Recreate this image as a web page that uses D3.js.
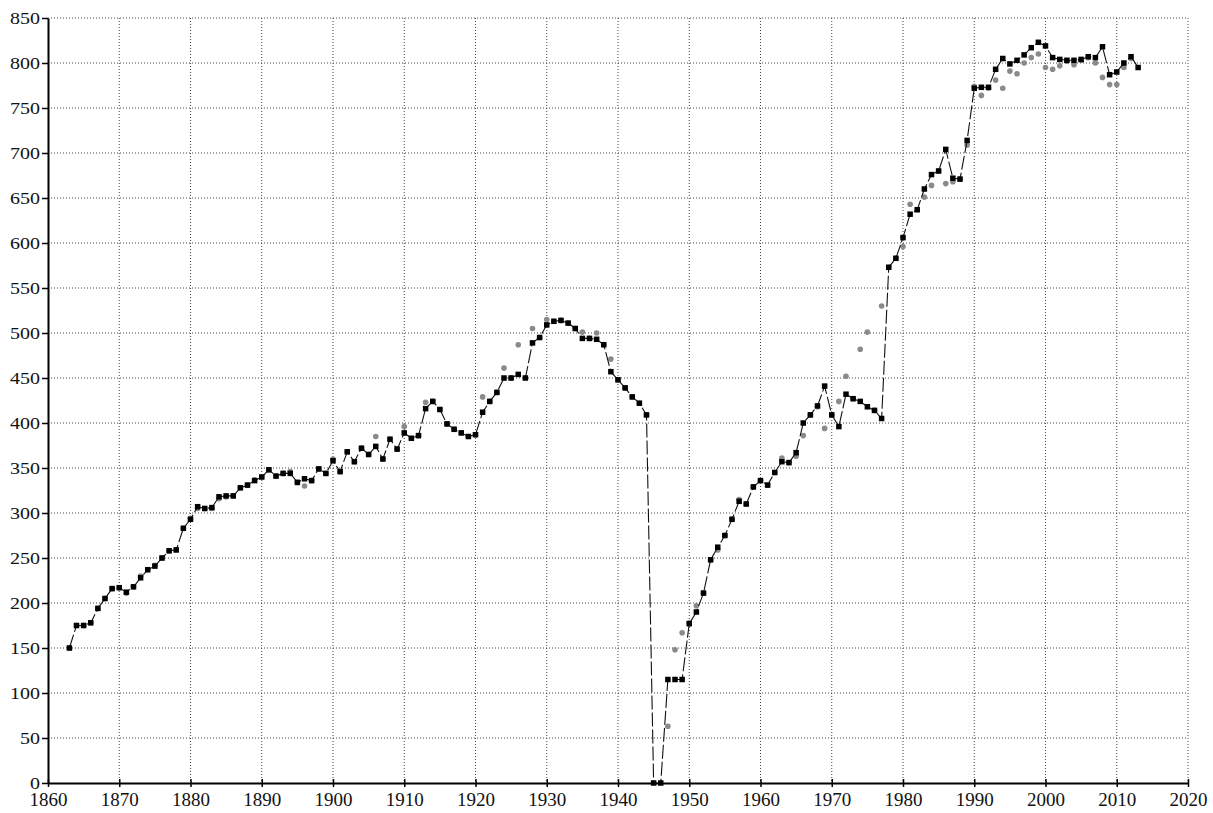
<!DOCTYPE html>
<html>
<head>
<meta charset="utf-8">
<script src="https://cdn.jsdelivr.net/npm/d3@7"></script>
<style>
  html, body { margin: 0; padding: 0; background: #fff; }
  svg { display: block; }
</style>
</head>
<body>
<div id="chart"></div>
<script>
// years 1863..2013, one value per year
const years = d3.range(1863, 2014);

const blackValues = [
  150, 175, 175, 178, 194, 205, 216, 217, 212, 218,   // 1863-1872
  228, 237, 241, 250, 258, 259, 283, 293, 307, 305,   // 1873-1882
  306, 318, 319, 319, 328, 331, 336, 340, 348, 341,   // 1883-1892
  344, 344, 334, 338, 336, 349, 344, 358, 346, 368,   // 1893-1902
  357, 372, 365, 374, 360, 382, 371, 389, 383, 386,   // 1903-1912
  416, 424, 415, 399, 393, 389, 385, 387, 412, 424,   // 1913-1922
  434, 450, 450, 454, 450, 489, 495, 509, 513, 514,   // 1923-1932
  511, 505, 494, 494, 493, 487, 457, 448, 439, 429,   // 1933-1942
  422, 409, 0, 0, 115, 115, 115, 177, 190, 211,       // 1943-1952
  248, 262, 275, 293, 313, 310, 329, 336, 331, 345,   // 1953-1962
  357, 356, 367, 400, 409, 419, 441, 409, 396, 432,   // 1963-1972
  427, 424, 418, 414, 405, 573, 583, 606, 632, 637,   // 1973-1982
  660, 676, 680, 704, 672, 671, 714, 772, 773, 773,   // 1983-1992
  793, 805, 799, 803, 809, 817, 823, 819, 806, 804,   // 1993-2002
  803, 803, 804, 807, 806, 818, 787, 790, 800, 807,   // 2003-2012
  795                                                 // 2013
];

const grayValues = [
  150, 175, 175, 178, 194, 205, 216, 217, 211, 218,   // 1863-1872
  230, 237, 242, 250, 258, 259, 283, 294, 305, 305,   // 1873-1882
  305, 316, 318, 319, 328, 331, 337, 340, 348, 341,   // 1883-1892
  344, 346, 334, 330, 336, 349, 344, 360, 346, 368,   // 1893-1902
  357, 372, 365, 385, 360, 382, 371, 396, 383, 386,   // 1903-1912
  423, 424, 415, 399, 393, 389, 385, 387, 429, 424,   // 1913-1922
  434, 461, 450, 487, 450, 505, 495, 515, 513, 514,   // 1923-1932
  511, 505, 501, 494, 500, 487, 471, 448, 439, 429,   // 1933-1942
  422, 409, null, null, 63, 148, 167, 178, 197, 211,  // 1943-1952
  248, 259, 275, 293, 315, 310, 329, 336, 331, 345,   // 1953-1962
  361, 356, 363, 386, 409, 418, 394, 409, 424, 452,   // 1963-1972
  427, 482, 501, 414, 530, 573, 583, 596, 643, 637,   // 1973-1982
  651, 664, 680, 666, 668, 671, 709, 774, 764, 772,   // 1983-1992
  781, 772, 791, 788, 800, 806, 810, 795, 793, 797,   // 1993-2002
  802, 798, 803, 806, 800, 784, 776, 776, 795, 805,   // 2003-2012
  null                                                // 2013
];

const xTicks = [1860, 1870, 1880, 1890, 1900, 1910, 1920, 1930, 1940, 1950, 1960, 1970, 1980, 1990, 2000, 2010, 2020];
const yTicks = [0, 50, 100, 150, 200, 250, 300, 350, 400, 450, 500, 550, 600, 650, 700, 750, 800, 850];

const W = 1213, H = 813;
const margin = { top: 18, right: 25, bottom: 30, left: 48 };
const width = W - margin.left - margin.right;
const height = H - margin.top - margin.bottom;
const serif = '"Liberation Serif", "DejaVu Serif", "Times New Roman", serif';

const svg = d3.select('#chart').append('svg')
    .attr('width', W)
    .attr('height', H);

const g = svg.append('g')
    .attr('transform', `translate(${margin.left},${margin.top})`);

const x = d3.scaleLinear().domain([1860, 2020]).range([0, width]);
const y = d3.scaleLinear().domain([0, 850]).range([height, 0]);

// dotted grid
g.append('g').selectAll('line')
    .data(xTicks.slice(1))
    .join('line')
    .attr('x1', d => x(d)).attr('x2', d => x(d))
    .attr('y1', 0).attr('y2', height)
    .attr('stroke', '#444')
    .attr('stroke-width', 1)
    .attr('stroke-dasharray', '1,2');

g.append('g').selectAll('line')
    .data(yTicks.slice(1))
    .join('line')
    .attr('x1', 0).attr('x2', width)
    .attr('y1', d => y(d)).attr('y2', d => y(d))
    .attr('stroke', '#444')
    .attr('stroke-width', 1)
    .attr('stroke-dasharray', '1,2');

// axes
const xAxis = g.append('g')
    .attr('transform', `translate(0,${height})`)
    .call(d3.axisBottom(x).tickValues(xTicks).tickFormat(d3.format('d')).tickSizeInner(4).tickSizeOuter(0));
xAxis.attr('font-family', serif);
xAxis.select('.domain').attr('stroke', '#000').attr('stroke-width', 2);
xAxis.selectAll('.tick line').attr('y1', -4).attr('stroke', '#000').attr('stroke-width', 1.5);
xAxis.selectAll('.tick text')
    .attr('y', 10)
    .attr('dy', '0.71em')
    .attr('fill', '#111')
    .style('font-family', serif)
    .style('font-size', '19px');

const yAxis = g.append('g')
    .call(d3.axisLeft(y).tickValues(yTicks).tickSizeInner(6).tickSizeOuter(0).tickPadding(2));
yAxis.attr('font-family', serif);
yAxis.select('.domain').attr('stroke', '#000').attr('stroke-width', 2);
yAxis.selectAll('.tick line').attr('stroke', '#000').attr('stroke-width', 1.5);
yAxis.selectAll('.tick text')
    .attr('fill', '#111')
    .style('font-family', serif)
    .style('font-size', '16px')
    .attr('textLength', d => String(d).length * 10)
    .attr('lengthAdjust', 'spacingAndGlyphs');

const points = years.map((yr, i) => ({ year: yr, black: blackValues[i], gray: grayValues[i] }));

// gray series: dots only
g.append('g').selectAll('circle')
    .data(points.filter(d => d.gray != null))
    .join('circle')
    .attr('cx', d => x(d.year))
    .attr('cy', d => y(d.gray))
    .attr('r', 2.8)
    .attr('fill', '#8a8a8a');

// black series: thin line + square markers
const line = d3.line()
    .x(d => x(d.year))
    .y(d => y(d.black));

g.append('path')
    .datum(points)
    .attr('d', line)
    .attr('fill', 'none')
    .attr('stroke', '#111')
    .attr('stroke-width', 1.1)
    .attr('stroke-dasharray', '14,3');

const sq = 5.5;
g.append('g').selectAll('rect')
    .data(points)
    .join('rect')
    .attr('x', d => x(d.year) - sq / 2)
    .attr('y', d => y(d.black) - sq / 2)
    .attr('width', sq)
    .attr('height', sq)
    .attr('fill', '#000');
</script>
</body>
</html>
